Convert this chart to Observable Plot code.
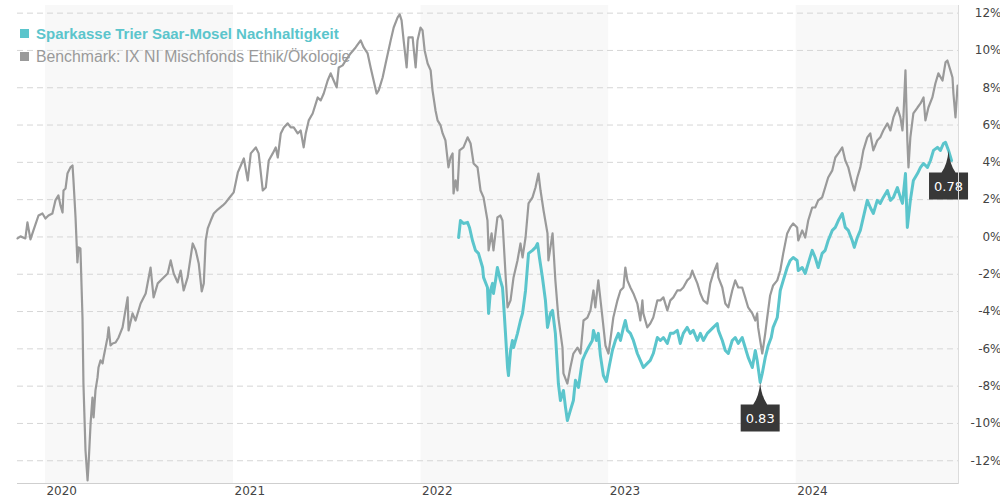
<!DOCTYPE html>
<html><head><meta charset="utf-8">
<script src="https://cdn.jsdelivr.net/npm/d3@7"></script>
<script src="https://cdn.jsdelivr.net/npm/@observablehq/plot@0.6"></script>
<style>
body{margin:0;background:#fff;}
#wrap{position:relative;width:1000px;height:503px;overflow:hidden;}
#legend{position:absolute;left:20px;top:22px;font-family:"Liberation Sans",Arial,sans-serif;pointer-events:none;}
.item{display:flex;align-items:center;height:23px;white-space:nowrap;}
.sw{display:inline-block;width:9px;height:9px;margin-right:7px;}
</style></head><body>
<div id="wrap"><div id="chart"></div><div id="legend"></div></div>
<script>
const seriesNames = ["Sparkasse Trier Saar-Mosel Nachhaltigkeit", "Benchmark: IX NI Mischfonds Ethik/Ökologie"];
const seriesColors = ["#5bc5cc", "#9a9a9a"];

// Benchmark (decimal year, % change)
const benchT = [2019.851,2019.867,2019.893,2019.904,2019.920,2019.936,2019.963,2019.984,2020.000,2020.016,2020.037,2020.053,2020.069,2020.080,2020.091,2020.096,2020.107,2020.117,2020.133,2020.144,2020.149,2020.160,2020.170,2020.176,2020.186,2020.197,2020.202,2020.213,2020.224,2020.229,2020.240,2020.250,2020.256,2020.266,2020.277,2020.282,2020.293,2020.304,2020.309,2020.330,2020.336,2020.346,2020.357,2020.373,2020.389,2020.410,2020.437,2020.442,2020.463,2020.479,2020.506,2020.533,2020.559,2020.575,2020.597,2020.623,2020.650,2020.666,2020.682,2020.703,2020.719,2020.735,2020.756,2020.783,2020.799,2020.815,2020.831,2020.842,2020.852,2020.863,2020.879,2020.895,2020.916,2020.943,2020.959,2020.975,2021.001,2021.023,2021.039,2021.055,2021.076,2021.092,2021.119,2021.134,2021.156,2021.172,2021.188,2021.209,2021.225,2021.236,2021.252,2021.268,2021.289,2021.305,2021.321,2021.342,2021.358,2021.374,2021.385,2021.401,2021.422,2021.449,2021.465,2021.481,2021.502,2021.518,2021.534,2021.550,2021.561,2021.582,2021.598,2021.624,2021.651,2021.678,2021.694,2021.715,2021.731,2021.747,2021.763,2021.774,2021.795,2021.811,2021.838,2021.854,2021.875,2021.886,2021.896,2021.907,2021.923,2021.933,2021.955,2021.960,2021.971,2021.981,2021.997,2022.008,2022.019,2022.035,2022.051,2022.061,2022.077,2022.088,2022.104,2022.115,2022.130,2022.146,2022.157,2022.168,2022.173,2022.184,2022.194,2022.205,2022.226,2022.248,2022.264,2022.280,2022.301,2022.317,2022.333,2022.354,2022.360,2022.376,2022.386,2022.407,2022.423,2022.434,2022.450,2022.461,2022.477,2022.493,2022.514,2022.530,2022.541,2022.557,2022.573,2022.594,2022.610,2022.626,2022.637,2022.653,2022.674,2022.679,2022.701,2022.716,2022.732,2022.754,2022.759,2022.780,2022.796,2022.812,2022.834,2022.850,2022.866,2022.887,2022.903,2022.919,2022.929,2022.945,2022.967,2022.983,2022.999,2023.009,2023.025,2023.047,2023.063,2023.079,2023.089,2023.100,2023.116,2023.132,2023.153,2023.169,2023.180,2023.185,2023.206,2023.222,2023.238,2023.260,2023.276,2023.292,2023.313,2023.329,2023.345,2023.366,2023.382,2023.398,2023.419,2023.435,2023.446,2023.451,2023.473,2023.489,2023.505,2023.526,2023.542,2023.558,2023.579,2023.585,2023.606,2023.622,2023.638,2023.659,2023.675,2023.691,2023.712,2023.728,2023.744,2023.766,2023.782,2023.792,2023.797,2023.808,2023.819,2023.824,2023.835,2023.845,2023.861,2023.877,2023.899,2023.915,2023.931,2023.952,2023.968,2023.984,2024.005,2024.011,2024.032,2024.048,2024.064,2024.085,2024.101,2024.117,2024.138,2024.154,2024.170,2024.192,2024.208,2024.224,2024.245,2024.261,2024.277,2024.298,2024.309,2024.325,2024.341,2024.357,2024.378,2024.394,2024.410,2024.431,2024.447,2024.463,2024.485,2024.501,2024.517,2024.538,2024.554,2024.565,2024.570,2024.581,2024.591,2024.597,2024.607,2024.623,2024.645,2024.661,2024.677,2024.687,2024.703,2024.724,2024.740,2024.756,2024.778,2024.794,2024.804,2024.820,2024.831,2024.836,2024.847,2024.858];
const benchV = [-0.08,0.03,-0.08,0.78,-0.13,0.35,1.15,1.26,0.99,1.15,1.26,1.96,2.23,1.69,1.31,2.49,2.60,3.40,3.73,3.83,3.03,1.05,-1.37,-0.56,-0.62,-4.32,-7.86,-11.45,-13.06,-12.25,-10.00,-8.61,-9.68,-8.23,-7.53,-7.00,-6.62,-6.78,-6.46,-5.39,-4.85,-5.82,-5.71,-5.66,-5.39,-4.85,-3.24,-5.01,-4.10,-4.48,-3.57,-3.03,-1.64,-3.24,-2.49,-2.23,-1.96,-1.26,-1.96,-2.44,-1.80,-2.87,-2.17,-0.35,-0.72,-1.42,-2.92,-2.49,-0.19,0.46,0.88,1.26,1.47,1.69,1.85,2.06,2.39,3.46,3.83,4.21,3.03,4.48,4.80,4.48,2.49,2.65,4.10,4.48,4.80,4.26,5.55,5.87,6.09,5.87,5.87,5.55,5.71,4.80,5.55,6.25,6.62,7.48,7.32,7.69,8.39,8.77,8.39,8.02,9.09,9.20,9.46,9.84,10.16,10.54,10.16,9.84,9.09,8.39,7.69,7.86,8.55,9.30,10.54,11.23,11.77,11.93,11.61,10.54,9.09,10.70,10.70,10.16,9.09,10.54,11.23,11.07,10.00,9.30,8.93,7.86,6.78,6.25,5.98,5.55,5.17,3.73,4.26,4.48,2.33,3.03,2.49,4.64,4.80,5.34,5.01,3.94,3.73,2.49,2.12,0.88,-0.72,0.19,-0.72,1.05,1.15,0.88,-1.96,-3.78,-3.40,-2.17,-1.26,-0.35,-1.10,-0.03,1.80,2.12,2.65,3.40,2.49,1.42,0.19,-1.26,0.19,-2.33,-4.32,-5.93,-7.32,-7.86,-7.00,-6.25,-5.93,-6.25,-4.48,-4.32,-3.94,-2.87,-3.78,-2.33,-4.32,-5.82,-6.25,-5.55,-4.32,-3.40,-2.87,-2.71,-1.64,-2.33,-2.71,-3.03,-3.57,-4.48,-3.40,-4.10,-4.85,-4.64,-4.32,-3.40,-3.40,-3.24,-3.94,-3.40,-3.24,-2.87,-2.87,-2.71,-2.33,-2.17,-1.80,-1.96,-2.49,-3.03,-3.40,-3.57,-2.49,-1.96,-1.42,-2.17,-2.71,-3.57,-3.78,-2.87,-2.33,-2.71,-2.71,-3.24,-3.78,-4.10,-4.48,-4.10,-4.85,-5.55,-6.25,-5.93,-5.17,-4.37,-3.14,-2.60,-2.33,-1.80,-0.88,0.19,0.51,0.72,0.51,-0.19,0.35,-0.03,0.88,1.58,1.58,1.96,2.12,2.65,3.19,3.57,4.26,4.48,4.80,4.10,3.73,2.87,2.49,3.19,3.73,4.64,5.34,5.55,4.64,5.17,5.34,5.71,6.09,5.71,6.41,6.94,6.41,5.71,6.41,8.93,5.17,3.73,5.34,6.62,6.94,7.16,7.48,6.25,6.94,7.48,8.23,8.77,8.39,9.36,9.46,8.93,8.55,7.69,6.41,8.12];

// Fund (decimal year, % change)
const fundT = [2022.200,2022.210,2022.226,2022.248,2022.258,2022.274,2022.290,2022.306,2022.328,2022.333,2022.354,2022.360,2022.370,2022.381,2022.386,2022.397,2022.407,2022.423,2022.434,2022.439,2022.450,2022.461,2022.466,2022.477,2022.487,2022.493,2022.514,2022.530,2022.541,2022.557,2022.573,2022.594,2022.610,2022.621,2022.631,2022.647,2022.663,2022.674,2022.690,2022.701,2022.716,2022.727,2022.732,2022.743,2022.759,2022.770,2022.780,2022.796,2022.812,2022.823,2022.839,2022.860,2022.876,2022.892,2022.913,2022.919,2022.935,2022.945,2022.956,2022.972,2022.988,2023.004,2023.020,2023.036,2023.052,2023.063,2023.079,2023.089,2023.100,2023.116,2023.132,2023.153,2023.169,2023.185,2023.206,2023.222,2023.238,2023.260,2023.276,2023.292,2023.313,2023.329,2023.345,2023.366,2023.382,2023.398,2023.419,2023.435,2023.451,2023.473,2023.489,2023.505,2023.526,2023.542,2023.558,2023.579,2023.585,2023.606,2023.622,2023.638,2023.659,2023.675,2023.691,2023.712,2023.728,2023.744,2023.766,2023.782,2023.792,2023.808,2023.819,2023.835,2023.851,2023.867,2023.877,2023.899,2023.915,2023.931,2023.952,2023.968,2023.984,2024.005,2024.011,2024.032,2024.048,2024.064,2024.085,2024.101,2024.117,2024.138,2024.154,2024.170,2024.192,2024.208,2024.224,2024.245,2024.261,2024.277,2024.298,2024.309,2024.325,2024.341,2024.357,2024.378,2024.394,2024.410,2024.431,2024.447,2024.463,2024.485,2024.501,2024.517,2024.538,2024.554,2024.565,2024.581,2024.591,2024.607,2024.623,2024.645,2024.661,2024.677,2024.698,2024.714,2024.730,2024.751,2024.767,2024.783,2024.794,2024.810,2024.826];
const fundV = [-0.03,0.88,0.72,0.78,0.51,-0.19,-0.72,-0.88,-1.64,-2.17,-2.71,-4.10,-2.87,-2.49,-3.03,-2.33,-1.64,-2.33,-2.71,-3.40,-5.17,-7.00,-7.43,-6.09,-5.55,-5.93,-5.17,-4.48,-4.10,-2.87,-0.88,-0.72,-0.56,-0.35,-1.10,-2.17,-3.40,-4.85,-4.10,-3.94,-5.17,-7.00,-7.86,-8.77,-8.23,-9.14,-9.84,-9.30,-8.77,-7.69,-8.07,-6.62,-6.25,-5.93,-5.55,-5.01,-5.55,-5.17,-6.35,-7.43,-7.75,-6.89,-6.09,-5.55,-5.17,-5.55,-4.85,-4.48,-5.01,-5.17,-5.55,-6.25,-6.62,-7.00,-6.78,-6.62,-6.25,-5.39,-5.55,-5.39,-5.71,-5.17,-5.17,-5.01,-5.71,-5.17,-4.85,-5.17,-5.01,-5.55,-5.17,-5.55,-5.17,-5.01,-4.85,-4.64,-5.01,-5.55,-6.09,-6.25,-5.55,-5.39,-5.71,-5.39,-5.93,-6.46,-7.00,-6.09,-6.62,-7.80,-7.32,-6.46,-5.82,-5.39,-4.85,-4.32,-2.87,-2.33,-1.64,-1.26,-1.10,-1.26,-1.80,-1.64,-1.96,-1.42,-0.72,-1.10,-1.64,-0.88,-0.72,-0.19,0.35,0.51,0.88,1.26,0.51,0.35,-0.19,-0.56,-0.03,0.35,1.05,1.96,1.58,1.26,1.96,1.80,2.12,2.49,1.96,2.12,2.65,2.12,1.80,3.40,0.51,1.96,3.03,3.40,3.73,3.94,3.73,4.10,4.64,4.80,4.64,5.01,5.07,4.64,4.10];

// Annotations on the fund line
const markerT = [2023.808, 2024.810];
const markerV = [-7.80, 4.64];
const markerLabels = ["0.83", "0.78"];

const yearLabels = ["2020", "2021", "2022", "2023", "2024"];
const shadedYears = [2020, 2022, 2024];
const yTickValues = [-12, -10, -8, -6, -4, -2, 0, 2, 4, 6, 8, 10, 12];
const xDomainT = [2019.851, 2024.863];
const yDomain = [-13.22, 12.41];

function toDate(t) {
  const y = Math.floor(t);
  const a = Date.UTC(y, 0, 1), b = Date.UTC(y + 1, 0, 1);
  return new Date(a + (t - y) * (b - a));
}

const bench = benchT.map((t, i) => ({date: toDate(t), value: benchV[i]}));
const fund = fundT.map((t, i) => ({date: toDate(t), value: fundV[i]}));
const markers = markerT.map((t, i) => ({date: toDate(t), value: markerV[i], label: markerLabels[i]}));
const bands = shadedYears.map(y => ({start: toDate(y), end: toDate(y + 1)}));
const yearTicks = yearLabels.map(s => toDate(+s));

const flagSymbol = {
  draw(ctx) {
    ctx.moveTo(0, 0);
    ctx.quadraticCurveTo(1.2, 14, 7, 22);
    ctx.lineTo(19.5, 22);
    ctx.lineTo(19.5, 49);
    ctx.lineTo(-19.5, 49);
    ctx.lineTo(-19.5, 22);
    ctx.lineTo(-7, 22);
    ctx.quadraticCurveTo(-1.2, 14, 0, 0);
    ctx.closePath();
  }
};

const chart = Plot.plot({
  width: 1000,
  height: 503,
  marginLeft: 17,
  marginRight: 42,
  marginTop: 5,
  marginBottom: 20,
  style: {fontFamily: "'DejaVu Sans', Verdana, sans-serif", fontSize: "12px", color: "#444", background: "white", overflow: "visible"},
  x: {type: "utc", domain: xDomainT.map(toDate), label: null},
  y: {domain: yDomain, label: null},
  marks: [
    Plot.rect(bands, {x1: "start", x2: "end", fill: "#f8f8f8", clip: true}),
    Plot.gridY(yTickValues, {stroke: "#d6d6d6", strokeOpacity: 1, strokeDasharray: "6,4"}),
    Plot.line(bench, {x: "date", y: "value", stroke: seriesColors[1], strokeWidth: 2.2}),
    Plot.line(fund, {x: "date", y: "value", stroke: seriesColors[0], strokeWidth: 3}),
    Plot.dot(markers, {x: "date", y: "value", symbol: flagSymbol, fill: "#383838", stroke: "none"}),
    Plot.text(markers, {x: "date", y: "value", text: "label", dy: 36, fill: "white", fontSize: 13}),
    Plot.frame({anchor: "bottom", stroke: "#cfcfcf"}),
    Plot.frame({anchor: "right", stroke: "#dcdcdc"}),
    Plot.axisX({ticks: yearTicks, tickFormat: d3.utcFormat("%Y"), tickSize: 0, tickPadding: 3, textAnchor: "start", dx: 1, fill: "#444", label: null}),
    Plot.axisY({ticks: yTickValues, anchor: "right", tickFormat: d => d + "%", tickSize: 0, tickPadding: 3, textAnchor: "end", dx: 40, fill: "#444", label: null})
  ]
});
document.getElementById("chart").appendChild(chart);

const legend = document.getElementById("legend");
seriesNames.forEach((name, i) => {
  const item = document.createElement("div");
  item.className = "item";
  item.style.color = seriesColors[i];
  item.style.fontSize = i === 0 ? "15px" : "15.8px";
  item.style.fontWeight = i === 0 ? "bold" : "normal";
  const sw = document.createElement("span");
  sw.className = "sw";
  sw.style.background = seriesColors[i];
  item.appendChild(sw);
  item.appendChild(document.createTextNode(name));
  legend.appendChild(item);
});
</script>
</body></html>
